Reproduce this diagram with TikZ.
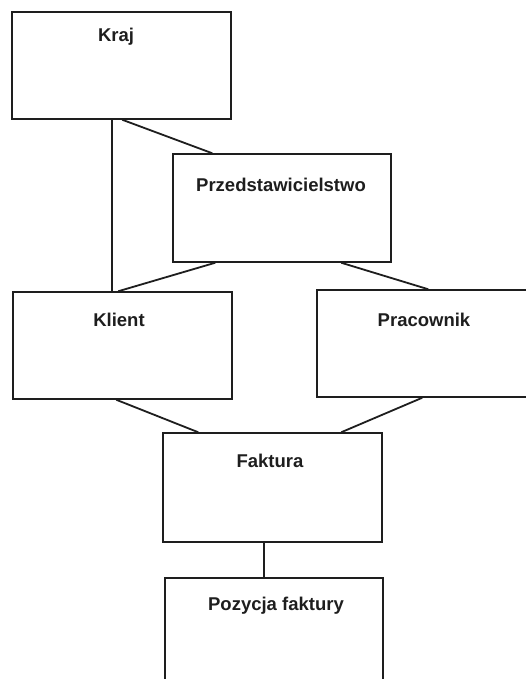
\documentclass[tikz,border=0pt]{standalone}
\usepackage{fontspec}
\setmainfont{Liberation Sans}
\usetikzlibrary{calc}
\definecolor{ink}{HTML}{1E1E1E}
\tikzset{
  entity/.style={draw=ink, line width=1.5pt, fill=white, rectangle, inner sep=0pt,
                 minimum width=219pt, minimum height=107pt},
  title/.style={anchor=base, inner sep=0pt, text=ink, font=\fontsize{18.5}{20}\selectfont\bfseries},
  link/.style={draw=ink, line width=1.8pt}
}
\begin{document}
\begin{tikzpicture}[x=1pt, y=-1pt]
  \useasboundingbox (0,0) rectangle (526,679);
  \clip (0,0) rectangle (526,679);
  \fill[white] (0,0) rectangle (526,679);

  % entity boxes
  \node[entity] (kraj) at (121.5,65.5) {};
  \node[entity, minimum width=218pt, minimum height=108pt] (przed) at (282,208) {};
  \node[entity] (klient) at (122.5,345.5) {};
  \node[entity] (pracownik) at (426.5,343.5) {};
  \node[entity, minimum height=109pt] (faktura) at (272.5,487.5) {};
  \node[entity, minimum width=218pt, minimum height=108pt] (pozycja) at (274,632) {};

  % entity names
  \node[title] (krajt) at (116,42) {Kraj};
  \node[title] (przedt) at (281,191) {Przedstawicielstwo};
  \node[title] (klientt) at (119,326) {Klient};
  \node[title] (pracownikt) at (424,326) {Pracownik};
  \node[title] (fakturat) at (270,467) {Faktura};
  \node[title] (pozycjat) at (276,610) {Pozycja faktury};

  % relationships
  \draw[link] ($(kraj.south west)+(101,0)$) -- ($(klient.north west)+(100,0)$);
  \draw[link] ($(kraj.south west)+(111,0)$) -- ($(przed.north west)+(40,0)$);
  \draw[link] ($(przed.south west)+(43,0)$) -- ($(klient.north west)+(106,0)$);
  \draw[link] ($(przed.south west)+(169,0)$) -- ($(pracownik.north west)+(112,0)$);
  \draw[link] ($(klient.south west)+(104,0)$) -- ($(faktura.north west)+(36,0)$);
  \draw[link] ($(pracownik.south west)+(106,0)$) -- ($(faktura.north west)+(179,0)$);
  \draw[link] ($(faktura.south west)+(102,0)$) -- ($(pozycja.north west)+(100,0)$);
\end{tikzpicture}
\end{document}
